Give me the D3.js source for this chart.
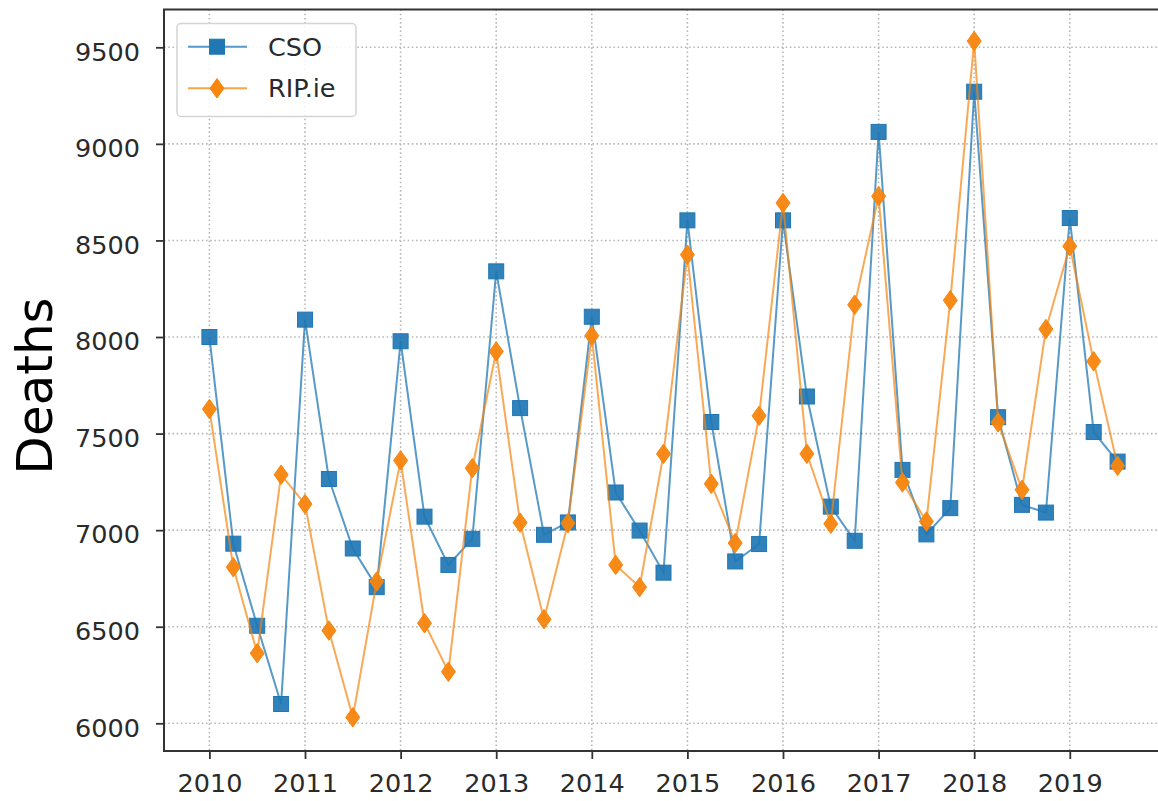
<!DOCTYPE html>
<html>
<head>
<meta charset="utf-8">
<script src="https://cdn.jsdelivr.net/npm/d3@7"></script>
<style>
  html, body { margin: 0; padding: 0; background: #ffffff; }
  svg { display: block; }
  text { font-family: "DejaVu Sans", sans-serif; }
</style>
</head>
<body>
<svg id="chart" width="1158" height="801"></svg>
<script>
// Quarterly deaths, 2010 Q1 – 2019 Q3
const quarters = [
  2010.00, 2010.25, 2010.50, 2010.75,
  2011.00, 2011.25, 2011.50, 2011.75,
  2012.00, 2012.25, 2012.50, 2012.75,
  2013.00, 2013.25, 2013.50, 2013.75,
  2014.00, 2014.25, 2014.50, 2014.75,
  2015.00, 2015.25, 2015.50, 2015.75,
  2016.00, 2016.25, 2016.50, 2016.75,
  2017.00, 2017.25, 2017.50, 2017.75,
  2018.00, 2018.25, 2018.50, 2018.75,
  2019.00, 2019.25, 2019.50
];

const csoDeaths = [
  8000, 6930, 6505, 6100,
  8090, 7265, 6905, 6705,
  7978, 7070, 6820, 6955,
  8340, 7632, 6976, 7040,
  8105, 7195, 6998, 6780,
  8604, 7560, 6838, 6928,
  8604, 7692, 7122, 6945,
  9062, 7312, 6978, 7114,
  9270, 7585, 7131, 7091,
  8616, 7508, 7355
];

const ripDeaths = [
  7627, 6808, 6363, 7287,
  7135, 6480, 6031, 6734,
  7361, 6518, 6267, 7321,
  7925, 7039, 6539, 7036,
  8007, 6820, 6705, 7395,
  8426, 7240, 6933, 7592,
  8694, 7395, 7033, 8167,
  8729, 7247, 7045, 8190,
  9532, 7558, 7209, 8041,
  8470, 7874, 7333
];

const xTicks = [2010, 2011, 2012, 2013, 2014, 2015, 2016, 2017, 2018, 2019];
const yTicks = [6000, 6500, 7000, 7500, 8000, 8500, 9000, 9500];

const seriesNames = ["CSO", "RIP.ie"];
const seriesColors = ["#1f77b4", "#f7850e"];

const svg = d3.select("#chart");

const plot = { left: 164, right: 1163, top: 9.5, bottom: 751 };

const x = d3.scaleLinear()
  .domain([2009.525, 2019.975])
  .range([plot.left, plot.right]);

const y = d3.scaleLinear()
  .domain([5856.6, 9695.7])
  .range([plot.bottom, plot.top]);

const fontSize = 25.5;

// dotted grid
const grid = svg.append("g").attr("class", "grid");
grid.selectAll("line.gx").data(xTicks).join("line")
  .attr("x1", d => x(d)).attr("x2", d => x(d))
  .attr("y1", plot.top).attr("y2", plot.bottom)
  .attr("stroke", "#b8b8b8").attr("stroke-width", 1.6)
  .attr("stroke-dasharray", "1.6,2.6");
grid.selectAll("line.gy").data(yTicks).join("line")
  .attr("x1", plot.left).attr("x2", plot.right)
  .attr("y1", d => y(d)).attr("y2", d => y(d))
  .attr("stroke", "#b8b8b8").attr("stroke-width", 1.6)
  .attr("stroke-dasharray", "1.6,2.6");

// axes
const xAxis = d3.axisBottom(x).tickValues(xTicks).tickFormat(d3.format("d"))
  .tickSize(8).tickPadding(15).tickSizeOuter(0);
const yAxis = d3.axisLeft(y).tickValues(yTicks).tickFormat(d3.format("d"))
  .tickSize(8).tickPadding(16).tickSizeOuter(0);

const gx = svg.append("g")
  .attr("transform", `translate(0,${plot.bottom})`)
  .call(xAxis);
const gy = svg.append("g")
  .attr("transform", `translate(${plot.left},0)`)
  .call(yAxis);

[gx, gy].forEach(g => {
  g.select(".domain").remove();
  g.selectAll(".tick line").attr("stroke", "#333").attr("stroke-width", 1.8);
  g.selectAll(".tick text")
    .attr("fill", "#2a2a2a")
    .style("font-size", fontSize + "px")
    .style("font-family", "'DejaVu Sans', sans-serif");
});
gy.selectAll(".tick text").attr("dy", "0.5em");

// frame (left, top, bottom)
svg.append("path")
  .attr("d", `M${plot.right},${plot.top} L${plot.left},${plot.top} L${plot.left},${plot.bottom} L${plot.right},${plot.bottom}`)
  .attr("fill", "none")
  .attr("stroke", "#333")
  .attr("stroke-width", 2);

// y label
svg.append("text")
  .attr("transform", "translate(52,386) rotate(-90)")
  .attr("text-anchor", "middle")
  .attr("fill", "#000")
  .style("font-size", "50px")
  .text("Deaths");

// series
const line = d3.line().x(d => x(d[0])).y(d => y(d[1]));

const squareSize = 15;
const diamondW = 14, diamondH = 19.5;
function diamondPath(cx, cy) {
  return `M${cx},${cy - diamondH / 2} L${cx + diamondW / 2},${cy} L${cx},${cy + diamondH / 2} L${cx - diamondW / 2},${cy} Z`;
}

const csoPts = quarters.map((q, i) => [q, csoDeaths[i]]);
const ripPts = quarters.map((q, i) => [q, ripDeaths[i]]);

const gCso = svg.append("g");
gCso.append("path").datum(csoPts)
  .attr("d", line).attr("fill", "none")
  .attr("stroke", seriesColors[0]).attr("stroke-width", 2)
  .attr("stroke-opacity", 0.75);
gCso.selectAll("rect").data(csoPts).join("rect")
  .attr("x", d => x(d[0]) - squareSize / 2)
  .attr("y", d => y(d[1]) - squareSize / 2)
  .attr("width", squareSize).attr("height", squareSize)
  .attr("fill", seriesColors[0]).attr("fill-opacity", 0.92)
  .attr("stroke", seriesColors[0]).attr("stroke-width", 1);

const gRip = svg.append("g");
gRip.append("path").datum(ripPts)
  .attr("d", line).attr("fill", "none")
  .attr("stroke", seriesColors[1]).attr("stroke-width", 2)
  .attr("stroke-opacity", 0.7);
gRip.selectAll("path.mk").data(ripPts).join("path")
  .attr("class", "mk")
  .attr("d", d => diamondPath(x(d[0]), y(d[1])))
  .attr("fill", seriesColors[1]).attr("fill-opacity", 0.95)
  .attr("stroke", seriesColors[1]).attr("stroke-width", 1);

// legend
const legend = svg.append("g");
legend.append("rect")
  .attr("x", 177).attr("y", 23.5)
  .attr("width", 179).attr("height", 93)
  .attr("rx", 4).attr("ry", 4)
  .attr("fill", "#fff").attr("fill-opacity", 0.85)
  .attr("stroke", "#d4d4d4").attr("stroke-width", 1.5);

const legendRows = [46.7, 88.3];
seriesNames.forEach((name, i) => {
  const cy = legendRows[i];
  legend.append("line")
    .attr("x1", 188).attr("x2", 247).attr("y1", cy).attr("y2", cy)
    .attr("stroke", seriesColors[i]).attr("stroke-width", 2)
    .attr("stroke-opacity", 0.75);
  if (i === 0) {
    legend.append("rect")
      .attr("x", 217 - squareSize / 2).attr("y", cy - squareSize / 2)
      .attr("width", squareSize).attr("height", squareSize)
      .attr("fill", seriesColors[0]).attr("stroke", seriesColors[0]).attr("stroke-width", 1);
  } else {
    legend.append("path")
      .attr("d", diamondPath(217, cy))
      .attr("fill", seriesColors[1]).attr("stroke", seriesColors[1]).attr("stroke-width", 1);
  }
  legend.append("text")
    .attr("x", 268).attr("y", cy)
    .attr("dy", "0.36em")
    .attr("fill", "#2a2a2a")
    .style("font-size", fontSize + "px")
    .text(name);
});
</script>
</body>
</html>
